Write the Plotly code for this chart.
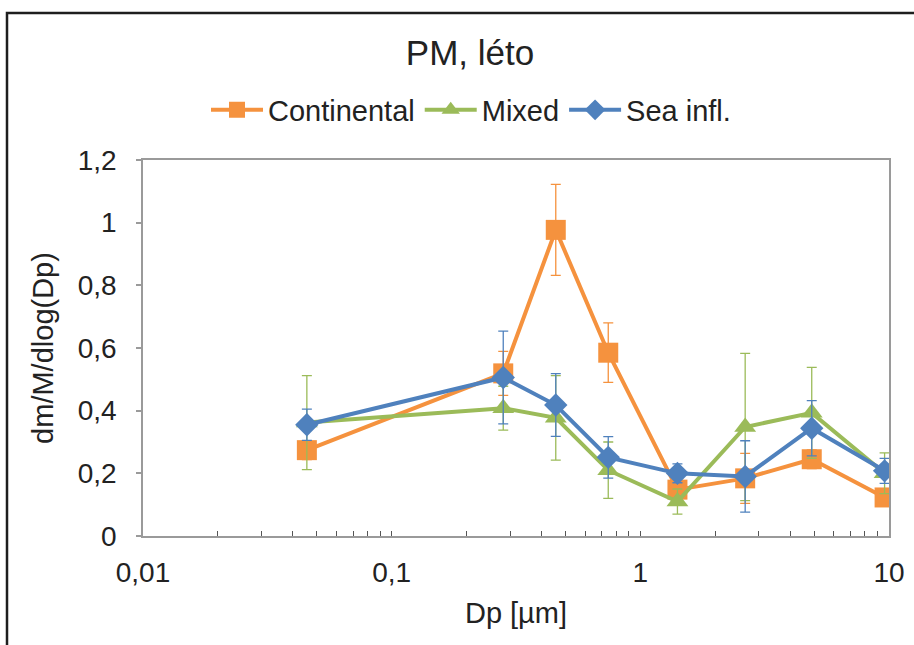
import plotly.graph_objects as go

# ---- data ----
dp = [0.0456, 0.281, 0.457, 0.743, 1.41, 2.64, 4.89, 9.6]

continental = [0.274, 0.519, 0.977, 0.585, 0.148, 0.184, 0.245, 0.123]
continental_err = [0.03, 0.07, 0.145, 0.095, 0.03, 0.08, 0.03, 0.02]

mixed = [0.362, 0.408, 0.377, 0.21, 0.11, 0.348, 0.393, 0.2]
mixed_err = [0.15, 0.07, 0.135, 0.09, 0.04, 0.235, 0.145, 0.065]

sea = [0.355, 0.506, 0.418, 0.251, 0.2, 0.19, 0.344, 0.208]
sea_err = [0.05, 0.148, 0.1, 0.066, 0.03, 0.114, 0.088, 0.04]

series_names = ["Continental", "Mixed", "Sea infl."]
x_major_vals = [0.01, 0.1, 1, 10]
x_major_text = ["0,01", "0,1", "1", "10"]
y_tick_vals = [0, 0.2, 0.4, 0.6, 0.8, 1.0, 1.2]
y_tick_text = ["0", "0,2", "0,4", "0,6", "0,8", "1", "1,2"]

# ---- styling ----
C_ORANGE = "#F5923E"
C_GREEN = "#9BBB59"
C_BLUE = "#4F81BD"
TXT = "#222222"
AX = "#9a9a9a"
FONT = "Liberation Sans, Arial, sans-serif"

# minor tick positions (1..9 x decade) with labels only at decades
tickvals, ticktext = [], []
for dec in [0.01, 0.1, 1]:
    for m in range(1, 10):
        tickvals.append(dec * m)
        ticktext.append(x_major_text[x_major_vals.index(dec)] if m == 1 else "")
tickvals.append(10)
ticktext.append("10")

fig = go.Figure()

specs = [
    (series_names[0], continental, continental_err, C_ORANGE, "square", 20),
    (series_names[1], mixed, mixed_err, C_GREEN, "triangle-up", 19),
    (series_names[2], sea, sea_err, C_BLUE, "diamond", 18),
]
for name, ys, err, col, sym, sz in specs:
    fig.add_trace(go.Scatter(
        x=dp, y=ys, name=name, mode="lines+markers",
        line=dict(color=col, width=4),
        marker=dict(color=col, symbol=sym, size=sz, line=dict(width=0)),
        error_y=dict(type="data", array=err, visible=True, color=col,
                     thickness=1.3, width=5),
    ))

W, H = 914, 645
L, R, T, B = 143, 25, 160, 109
pw, ph = W - L - R, H - T - B

def px_x(p):
    return (p - L) / pw

def px_y(p):
    return (H - B - p) / ph

fig.add_shape(type="rect", xref="paper", yref="paper",
              x0=px_x(7), x1=px_x(925), y0=px_y(660), y1=px_y(13),
              line=dict(color="#1e1e1e", width=2.5), fillcolor="rgba(0,0,0,0)",
              layer="above")

fig.update_layout(
    width=W, height=H,
    margin=dict(l=L, r=R, t=T, b=B, autoexpand=False),
    paper_bgcolor="white", plot_bgcolor="white",
    font=dict(family=FONT, color=TXT, size=29),
    title=dict(text="PM, léto", x=470 / W, xref="container", xanchor="center",
               y=1 - 53 / H, yref="container", yanchor="middle",
               font=dict(size=35, color=TXT, family=FONT)),
    legend=dict(orientation="h", x=px_x(471), xanchor="center",
                y=px_y(110), yanchor="middle", font=dict(size=29, color=TXT),
                bgcolor="rgba(0,0,0,0)", itemwidth=52, tracegroupgap=0),
    showlegend=True,
    xaxis=dict(type="log", range=[-2, 1], tickmode="array",
               tickvals=tickvals, ticktext=ticktext,
               ticks="inside", ticklen=5, tickwidth=1, tickcolor="#555",
               showline=True, linecolor=AX, linewidth=1.5, mirror=True,
               showgrid=False, zeroline=False,
               tickfont=dict(size=28, color=TXT), ticklabelstandoff=11,
               title=dict(text="Dp [µm]", font=dict(size=29, color=TXT), standoff=15)),
    yaxis=dict(range=[0, 1.2], tickmode="array", tickvals=y_tick_vals,
               ticktext=y_tick_text, ticks="outside", ticklen=5, tickwidth=1.5,
               tickcolor=AX, showline=True, linecolor=AX, linewidth=1.5,
               mirror=True, showgrid=False, zeroline=False,
               tickfont=dict(size=28, color=TXT), ticklabelstandoff=14,
               title=dict(text="dm/M/dlog(Dp)", font=dict(size=29, color=TXT), standoff=16)),
)

fig.write_html("out.html")
